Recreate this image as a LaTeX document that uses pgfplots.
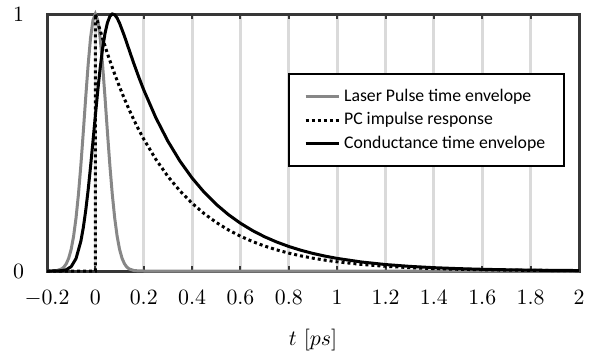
\documentclass[border=0pt]{standalone}
\usepackage{pgfplots}
\pgfplotsset{compat=1.18}
\usetikzlibrary{calc}
\usepackage{fontspec}
\newfontfamily\legfont{Carlito}
\definecolor{gridc}{RGB}{218,218,218}
\definecolor{framec}{RGB}{55,55,55}
\definecolor{laserc}{RGB}{135,135,135}
\begin{document}
\begin{tikzpicture}
\begin{axis}[
  name=ax,
  scale only axis,
  width=266bp, height=128.5bp,
  xmin=-0.2, xmax=2, ymin=0, ymax=1,
  clip=false,
  xtick={-0.2,0,0.2,0.4,0.6,0.8,1,1.2,1.4,1.6,1.8,2},
  xticklabels={$-0.2$,$0$,$0.2$,$0.4$,$0.6$,$0.8$,$1$,$1.2$,$1.4$,$1.6$,$1.8$,$2$},
  ytick={0,1},
  xmajorgrids,
  major grid style={color=gridc, line width=1.5bp},
  axis line style={color=framec, line width=1.5bp},
  xtick style={color=framec, line width=1bp},
  ytick style={draw=none},
  major tick length=2.5bp,
  tick label style={font=\fontsize{10.5}{12}\selectfont},
  xticklabel style={yshift=-6bp},
  yticklabel style={xshift=-8bp},
  xlabel={$t\ [ps]$},
  xlabel style={font=\fontsize{11}{13}\selectfont, at={(axis description cs:0.5,0)}, anchor=center, yshift=-34.5bp},
  legend style={at={(axis description cs:0.453,0.770)}, anchor=north west,
    draw=black, line width=1.1bp, inner xsep=7.5bp, inner ysep=5.5bp,
    font=\legfont\fontsize{8.9}{10}\selectfont, row sep=0bp,
    legend cell align=left},
  legend image code/.code={\draw[#1] (0cm,0cm) -- (16.5bp,0cm);},
]
\addplot[laserc, line width=1.5bp] coordinates {
(-0.2,0) (-0.18,0.0003) (-0.16,0.0018) (-0.14,0.0079) (-0.13,0.0154) (-0.12,0.0286)
(-0.11,0.0504) (-0.10,0.0846) (-0.09,0.1353) (-0.08,0.2060) (-0.07,0.2982) (-0.06,0.4110)
(-0.05,0.5394) (-0.04,0.6740) (-0.03,0.8007) (-0.02,0.9060) (-0.01,0.9756) (0,1)
(0.01,0.9756) (0.02,0.9060) (0.03,0.8007) (0.04,0.6740) (0.05,0.5394) (0.06,0.4110)
(0.07,0.2982) (0.08,0.2060) (0.09,0.1353) (0.10,0.0846) (0.11,0.0504) (0.12,0.0286)
(0.13,0.0154) (0.14,0.0079) (0.16,0.0018) (0.18,0.0003) (0.2,0) (2,0)
};
\addlegendentry{Laser Pulse time envelope}
\addplot[black, line width=1.5bp, dash pattern=on 1.5bp off 1.5bp] coordinates {
(-0.2,0) (0,0) (0,1) (0.01,0.9672) (0.02,0.9355) (0.03,0.9048) (0.04,0.8752) (0.05,0.8465)
(0.06,0.8187) (0.08,0.7659) (0.10,0.7165) (0.12,0.6703) (0.14,0.6271) (0.16,0.5866)
(0.18,0.5488) (0.2,0.5134) (0.25,0.4346) (0.3,0.3679) (0.35,0.3114) (0.4,0.2636)
(0.45,0.2231) (0.5,0.1889) (0.55,0.1599) (0.6,0.1353) (0.65,0.1146) (0.7,0.0970)
(0.75,0.0821) (0.8,0.0695) (0.85,0.0588) (0.9,0.0498) (0.95,0.0422) (1.0,0.0357)
(1.1,0.0256) (1.2,0.0183) (1.3,0.0131) (1.4,0.0094) (1.5,0.0067) (1.6,0.0048)
(1.7,0.0035) (1.8,0.0025) (1.9,0.0018) (2.0,0.0013)
};
\addlegendentry{PC impulse response}
\addplot[black, line width=1.5bp] coordinates {
(-0.2,0) (-0.18,0.0000) (-0.16,0.0002) (-0.14,0.0012) (-0.12,0.0050) (-0.10,0.0170)
(-0.08,0.0482) (-0.06,0.1157) (-0.05,0.1682) (-0.04,0.2343) (-0.03,0.3140) (-0.02,0.4053)
(-0.01,0.5038) (0,0.6045) (0.01,0.7019) (0.02,0.7906) (0.03,0.8661) (0.04,0.9250)
(0.05,0.9664) (0.06,0.9907) (0.07,1.0000) (0.08,0.9968) (0.09,0.9841) (0.10,0.9647)
(0.12,0.9146) (0.14,0.8595) (0.16,0.8049) (0.18,0.7533) (0.2,0.7047) (0.25,0.5966)
(0.3,0.5050) (0.35,0.4274) (0.4,0.3618) (0.45,0.3063) (0.5,0.2593) (0.55,0.2195)
(0.6,0.1858) (0.65,0.1573) (0.7,0.1331) (0.75,0.1127) (0.8,0.0954) (0.85,0.0807)
(0.9,0.0683) (0.95,0.0579) (1.0,0.0490) (1.1,0.0351) (1.2,0.0251) (1.3,0.0180)
(1.4,0.0129) (1.5,0.0093) (1.6,0.0066) (1.7,0.0048) (1.8,0.0034) (1.9,0.0024) (2.0,0.0018)
};
\addlegendentry{Conductance time envelope}
\end{axis}
\pgfresetboundingbox
\path[use as bounding box] ($(ax.south west)+(-23.5bp,-40bp)$) rectangle ($(ax.north east)+(6bp,7bp)$);
\end{tikzpicture}
\end{document}
